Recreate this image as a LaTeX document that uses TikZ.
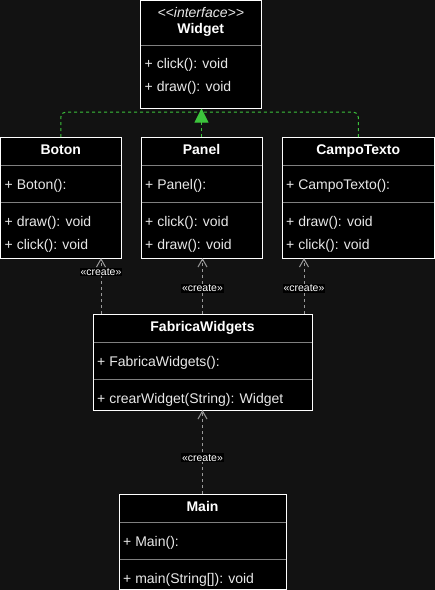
\documentclass[tikz,border=0pt]{standalone}
\usepackage{fontspec}
\setmainfont{Liberation Sans}
\usetikzlibrary{arrows.meta,positioning,calc}
\definecolor{bgdark}{HTML}{121212}
\definecolor{sepgray}{HTML}{7F7F7F}
\definecolor{linkgray}{HTML}{9A9A9A}
\definecolor{realgreen}{HTML}{3CC43C}
\definecolor{membertext}{HTML}{E8E8E8}

\begin{document}
\begin{tikzpicture}[x=1pt,y=-1pt,
    classbox/.style={draw=white,fill=black,line width=1pt,outer sep=0pt,anchor=north west},
    sepline/.style={draw=sepgray,line width=1pt,shorten <=0.5pt,shorten >=0.5pt},
    classname/.style={anchor=base,text=white,font=\fontsize{14}{16}\selectfont\bfseries},
    stereo/.style={anchor=base,text=membertext,font=\fontsize{14}{16}\selectfont\itshape},
    member/.style={anchor=base west,text=membertext,font=\fontsize{14}{16}\selectfont},
    realize/.style={draw=realgreen,line width=1pt,dash pattern=on 3pt off 3pt,rounded corners=5pt},
    creates/.style={draw=linkgray,line width=1pt,dash pattern=on 3pt off 3pt,-{Straight Barb[length=8pt,width=9pt]}},
    createlabel/.style={fill=black,text=white,inner sep=1pt,font=\fontsize{10.5}{11}\selectfont}]
    \tikzstyle{every node}+=[inner sep=0pt]
    \useasboundingbox (0,0) rectangle (435,590);
    \fill [bgdark] (0,0) rectangle (435,590);

    % interface
    \node [classbox,minimum width=120.5pt,minimum height=108pt] (widget) at (140.5,0.5) {};
    \node [stereo] (widget-st) at ($(widget.north)+(0,16.5)$) {<\kern0pt<interface>\kern0pt>};
    \node [classname] (widget-nm) at ($(widget.north)+(0,33)$) {Widget};
    \draw [sepline] ($(widget.north west)+(0,44.5)$) -- ($(widget.north east)+(0,44.5)$);
    \node [member] (widget-m1) at ($(widget.north west)+(4,68)$) {+ click(): void};
    \node [member] (widget-m2) at ($(widget.north west)+(4,90.5)$) {+ draw(): void};

    % concrete widgets
    \node [classbox,minimum width=120.5pt,minimum height=121pt] (boton) at (0.5,137) {};
    \node [classbox,minimum width=121pt,minimum height=121pt] (panel) at (141,137) {};
    \node [classbox,minimum width=152.5pt,minimum height=121pt] (campo) at (282,137) {};
    \foreach \c in {boton,panel,campo} {
        \draw [sepline] ($(\c.north west)+(0,28)$) -- ($(\c.north east)+(0,28)$);
        \draw [sepline] ($(\c.north west)+(0,65)$) -- ($(\c.north east)+(0,65)$);
    }
    \node [classname] (boton-nm) at ($(boton.north)+(0,17)$) {Boton};
    \node [member] (boton-m1) at ($(boton.north west)+(4,52.5)$) {+ Boton():};
    \node [member] (boton-m2) at ($(boton.north west)+(4,89)$) {+ draw(): void};
    \node [member] (boton-m3) at ($(boton.north west)+(4,112)$) {+ click(): void};
    \node [classname] (panel-nm) at ($(panel.north)+(0,17)$) {Panel};
    \node [member] (panel-m1) at ($(panel.north west)+(4,52.5)$) {+ Panel():};
    \node [member] (panel-m2) at ($(panel.north west)+(4,89)$) {+ click(): void};
    \node [member] (panel-m3) at ($(panel.north west)+(4,112)$) {+ draw(): void};
    \node [classname] (campo-nm) at ($(campo.north)+(0,17)$) {CampoTexto};
    \node [member] (campo-m1) at ($(campo.north west)+(4,52.5)$) {+ CampoTexto():};
    \node [member] (campo-m2) at ($(campo.north west)+(4,89)$) {+ draw(): void};
    \node [member] (campo-m3) at ($(campo.north west)+(4,112)$) {+ click(): void};

    % factory
    \node [classbox,minimum width=219pt,minimum height=96pt] (fabrica) at (93,314) {};
    \draw [sepline] ($(fabrica.north west)+(0,28)$) -- ($(fabrica.north east)+(0,28)$);
    \draw [sepline] ($(fabrica.north west)+(0,65)$) -- ($(fabrica.north east)+(0,65)$);
    \node [classname] (fabrica-nm) at ($(fabrica.north)+(0,17)$) {FabricaWidgets};
    \node [member] (fabrica-m1) at ($(fabrica.north west)+(4,52)$) {+ FabricaWidgets():};
    \node [member] (fabrica-m2) at ($(fabrica.north west)+(4,89)$) {+ crearWidget(String): Widget};

    % main
    \node [classbox,minimum width=167pt,minimum height=95.5pt] (main) at (119,494) {};
    \draw [sepline] ($(main.north west)+(0,28)$) -- ($(main.north east)+(0,28)$);
    \draw [sepline] ($(main.north west)+(0,65)$) -- ($(main.north east)+(0,65)$);
    \node [classname] (main-nm) at ($(main.north)+(0,17)$) {Main};
    \node [member] (main-m1) at ($(main.north west)+(4,52)$) {+ Main():};
    \node [member] (main-m2) at ($(main.north west)+(4,89)$) {+ main(String[]): void};

    % realization
    \coordinate (merge) at ($(widget.south)+(0,3.5)$);
    \draw [realize] (boton.north) |- (merge);
    \draw [realize] (campo.north) |- (merge);
    \draw [realize,-{Triangle[length=14pt,width=14pt,fill=realgreen]}] (panel.north) -- (panel.north |- widget.south);

    % create dependencies
    \coordinate (fab-l) at ($(fabrica.north west)+(8,0)$);
    \coordinate (fab-r) at ($(fabrica.north east)+(-8,0)$);
    \draw [creates] (fab-l) -- (fab-l |- boton.south) node [createlabel,pos=0.75] (lbl-boton) {«create»};
    \draw [creates] (fabrica.north) -- (fabrica.north |- panel.south) node [createlabel,pos=0.46] (lbl-panel) {«create»};
    \draw [creates] (fab-r) -- (fab-r |- campo.south) node [createlabel,pos=0.46] (lbl-campo) {«create»};
    \draw [creates] (main.north) -- (main.north |- fabrica.south) node [createlabel,pos=0.43] (lbl-fabrica) {«create»};
\end{tikzpicture}
\end{document}
